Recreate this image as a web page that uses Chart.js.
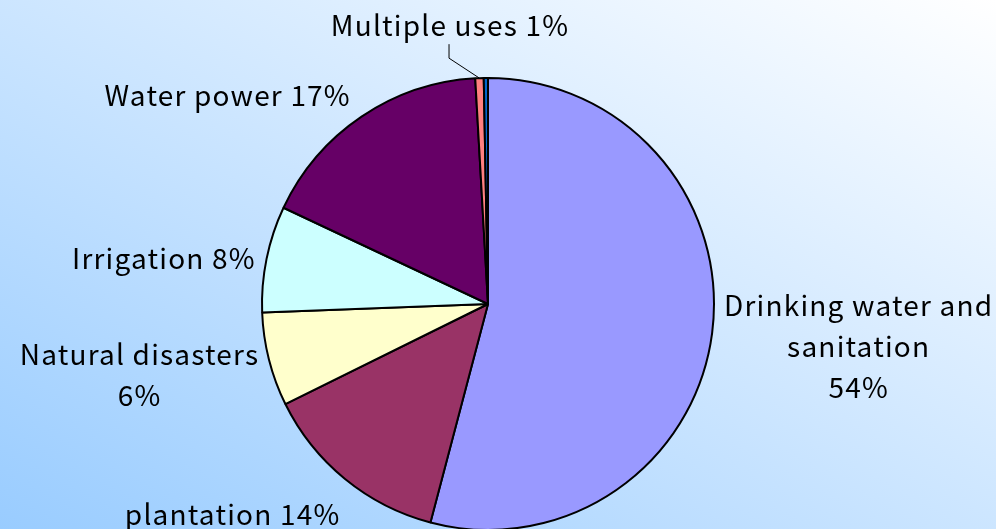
<!DOCTYPE html>
<html lang="en">
<head>
<meta charset="UTF-8">
<meta name="viewport" content="width=device-width, initial-scale=1.0">
<title>Water uses</title>
<script src="https://cdn.jsdelivr.net/npm/chart.js"></script>
<style>
  html, body { margin: 0; padding: 0; overflow: hidden; }
  body { width: 996px; height: 529px; background: linear-gradient(to top right, #99CCFF, #FFFFFF); }
  #wrap { width: 996px; height: 608px; }
</style>
</head>
<body>
<div id="wrap"><canvas id="myChart"></canvas></div>
<script>
// slices, clockwise from 12 o'clock
const categories = ['Drinking water and sanitation', 'plantation', 'Natural disasters',
                    'Irrigation', 'Water power', 'Multiple uses', 'Other'];
const shares = [54.1, 13.6, 6.7, 7.6, 17.1, 0.6, 0.3];
const labelText = ['Drinking water and\nsanitation\n54%', 'plantation 14%', 'Natural disasters\n6%',
                   'Irrigation 8%', 'Water power 17%', 'Multiple uses 1%', ''];

const sliceColors = ['#9999FF', '#993366', '#FFFFCC', '#CCFFFF', '#660066', '#FF8080', '#0066CC'];

// label placement tweaks (px) and which label gets a leader line
const labelNudge = [[0, 4], [3, 10], [2, 2], [1, 6], [-4, 6], [-29, -41], [0, 0]];
const leader = [false, false, false, false, false, true, false];
const GAP = 12;
const LINE_H = 41;

const labelPlugin = {
    id: 'sliceLabels',
    afterDatasetsDraw(chart) {
        const ctx = chart.ctx;
        const arcs = chart.getDatasetMeta(0).data;
        ctx.save();
        ctx.font = '28px "Noto Sans CJK JP"';
        ctx.letterSpacing = '1.2px';
        ctx.fillStyle = '#000';
        ctx.strokeStyle = '#000';
        ctx.lineWidth = 1;
        ctx.textAlign = 'center';
        ctx.textBaseline = 'middle';
        arcs.forEach((arc, i) => {
            const text = labelText[i];
            if (!text) return;
            const p = arc.getProps(['x', 'y', 'startAngle', 'endAngle', 'outerRadius'], true);
            const mid = (p.startAngle + p.endAngle) / 2;
            const cx = Math.cos(mid), cy = Math.sin(mid);
            const lines = text.split('\n');
            const boxW = Math.max(...lines.map(l => ctx.measureText(l).width));
            const boxH = lines.length * LINE_H;
            const ax = p.x + cx * (p.outerRadius + GAP);
            const ay = p.y + cy * (p.outerRadius + GAP);
            let bx, by;
            if (leader[i]) {
                bx = ax + labelNudge[i][0];
                by = ay + labelNudge[i][1];
                const ex = p.x + cx * p.outerRadius, ey = p.y + cy * p.outerRadius;
                ctx.beginPath();
                ctx.moveTo(ex, ey);
                ctx.lineTo(bx - 1, by + 33);
                ctx.lineTo(bx - 1, by + 19);
                ctx.stroke();
            } else {
                bx = ax + Math.sign(cx) * boxW / 2 + labelNudge[i][0];
                by = ay + cy * boxH / 2 + labelNudge[i][1];
            }
            lines.forEach((l, k) => {
                ctx.fillText(l, bx, by - boxH / 2 + LINE_H * (k + 0.5));
            });
        });
        ctx.restore();
    }
};

new Chart(document.getElementById('myChart'), {
    type: 'pie',
    data: {
        labels: categories,
        datasets: [{
            data: shares,
            backgroundColor: sliceColors,
            borderColor: '#000',
            borderWidth: 2
        }]
    },
    options: {
        responsive: true,
        maintainAspectRatio: false,
        animation: false,
        radius: 226,
        layout: { padding: { left: 0, right: 20, top: 0, bottom: 0 } },
        plugins: {
            legend: { display: false },
            tooltip: { enabled: false }
        }
    },
    plugins: [labelPlugin]
});
</script>
</body>
</html>
